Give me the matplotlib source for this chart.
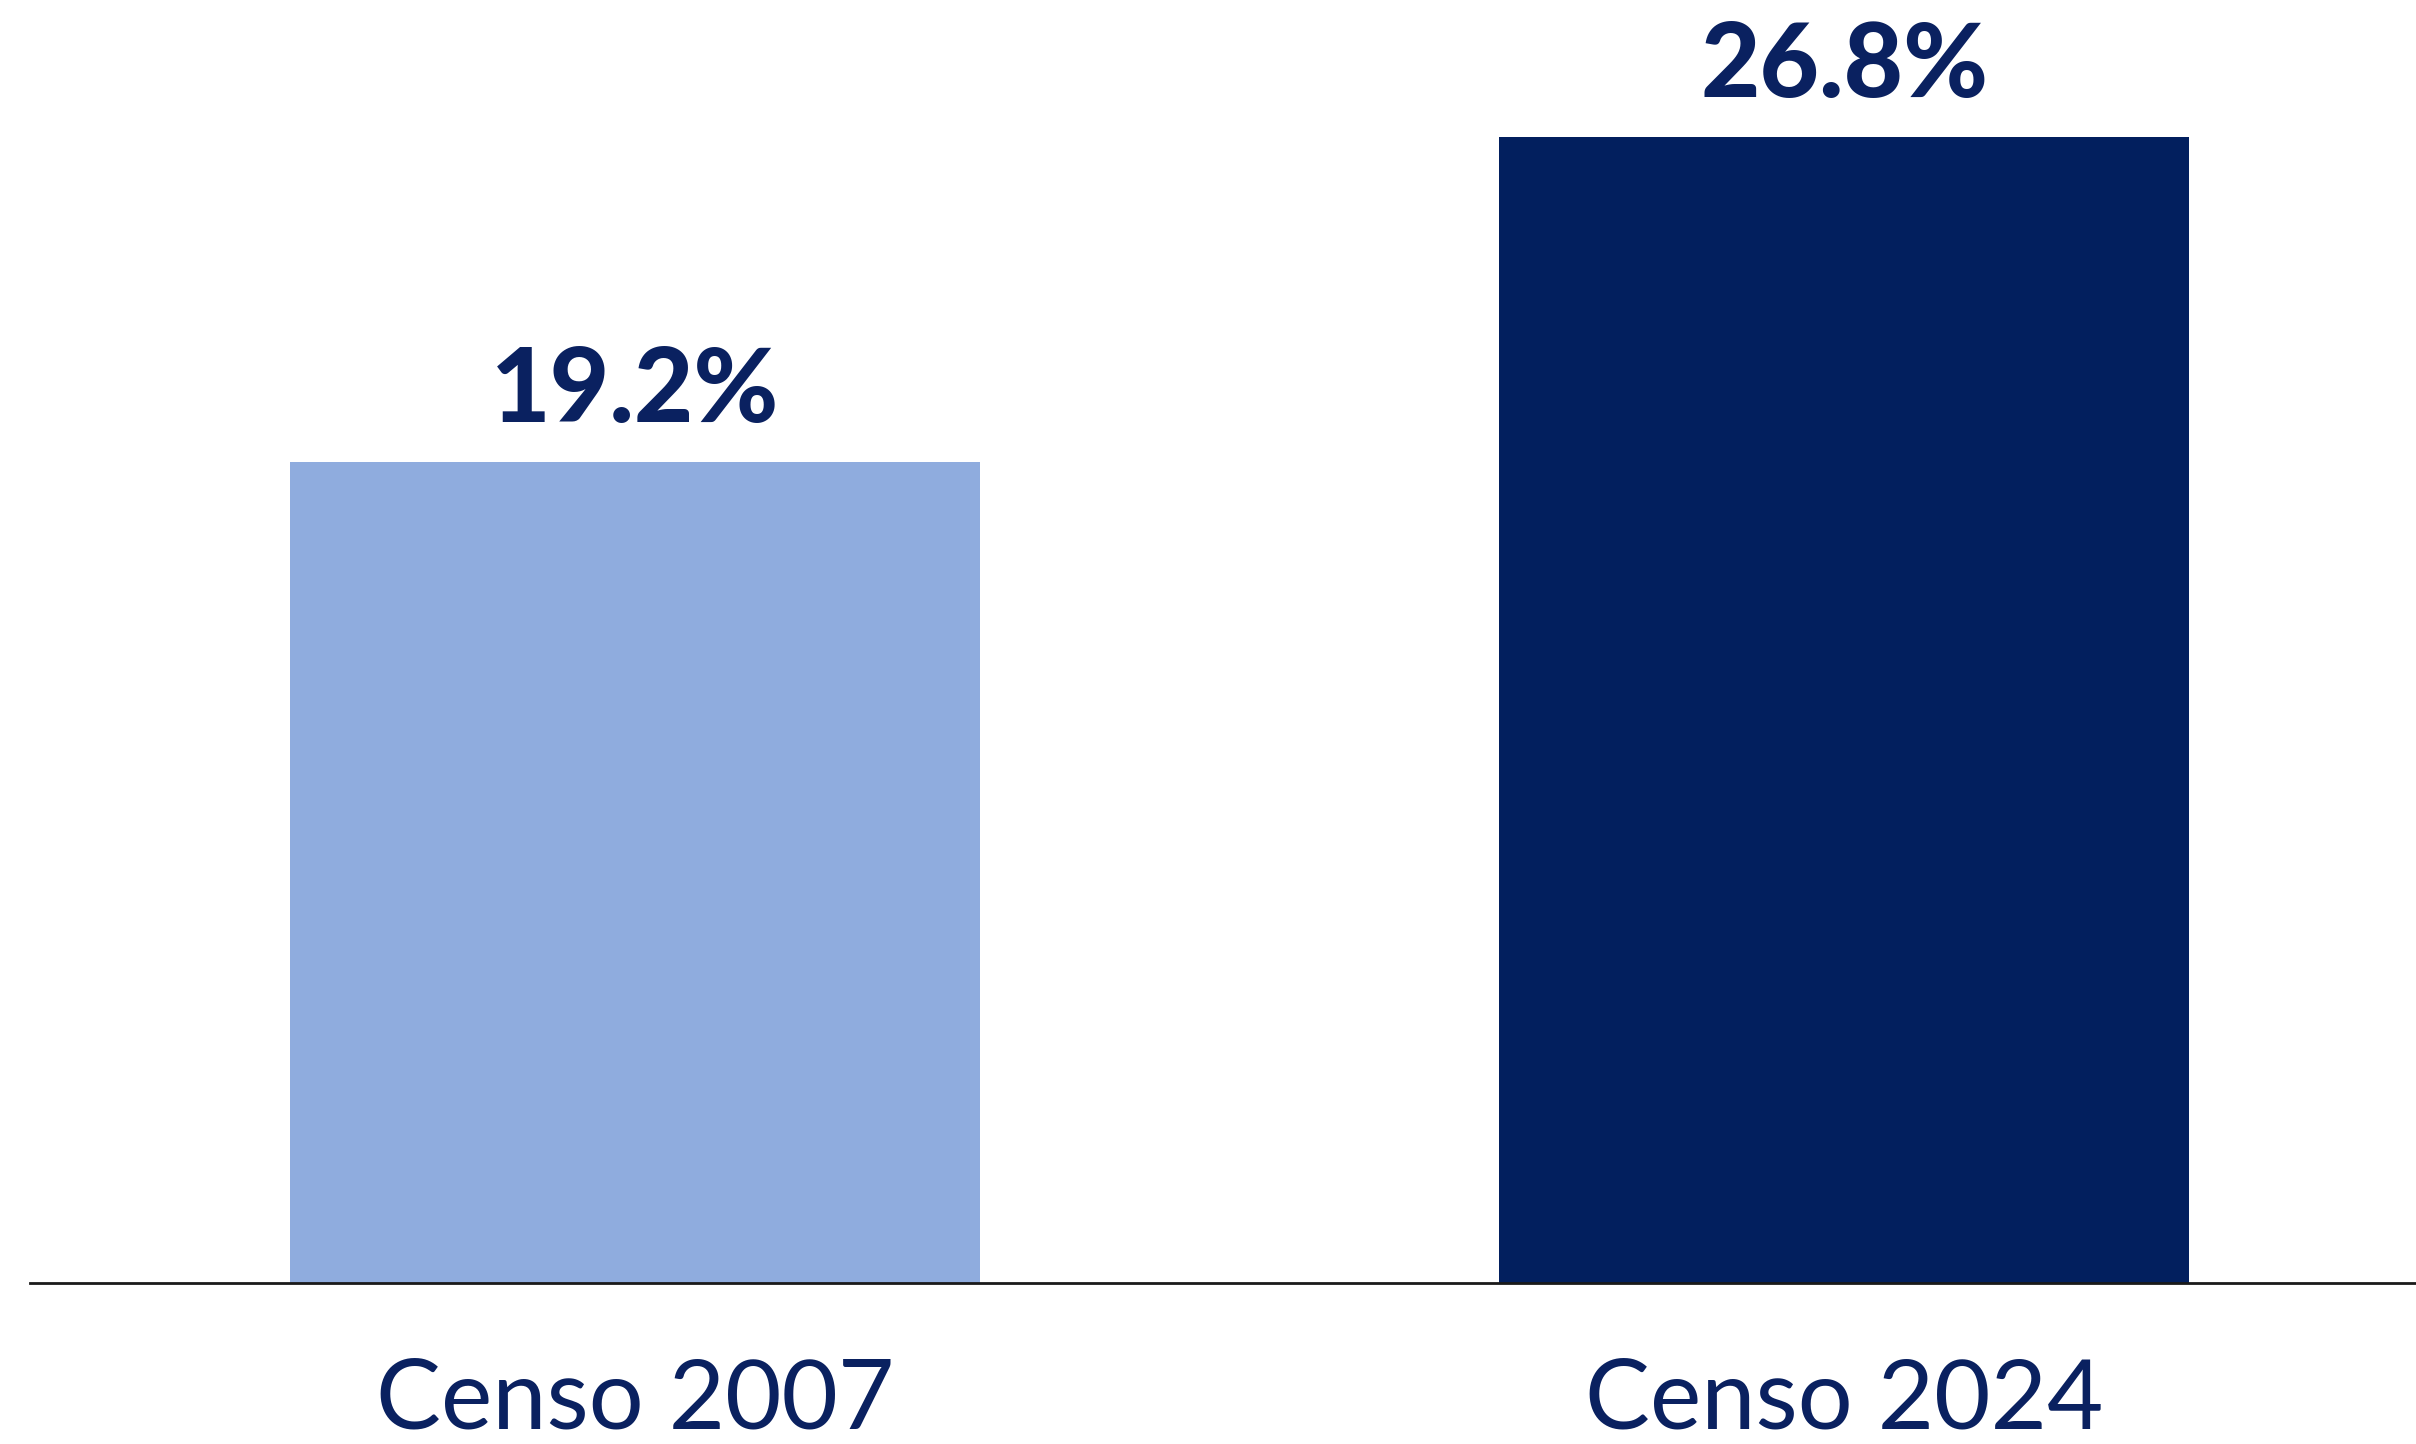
import matplotlib.pyplot as plt

categories = ['Censo 2007', 'Censo 2024']
values = [19.2, 26.8]
bar_colors = ['#8FACDE', '#021F5E']
text_color = '#0A2160'


def main():
    fig = plt.figure(figsize=(24.16, 14.44), dpi=100)
    ax = fig.add_axes([30 / 2416, 0.1115, 1 - 30 / 2416, 0.8885])

    x = list(range(len(categories)))
    ax.bar(x, values, width=0.571, color=bar_colors)

    for xi, v in zip(x, values):
        ax.annotate(f'{v:.1f}%', (xi, v), xytext=(0, 29), textcoords='offset points',
                    ha='center', va='baseline', fontsize=74, fontweight='black',
                    family='Lato', color=text_color)

    ax.set_xlim(-0.5004, 1.473)
    ax.set_ylim(0, 30.0)
    ax.set_xticks(x)
    ax.set_xticklabels(categories, fontsize=70, family='Lato', color=text_color)
    ax.tick_params(axis='x', length=0, pad=54)
    ax.set_yticks([])
    for side in ['top', 'right', 'left']:
        ax.spines[side].set_visible(False)
    ax.spines['bottom'].set_linewidth(2)
    ax.spines['bottom'].set_color('#1a1a1a')

    fig.savefig('out.png', dpi=100)


if __name__ == "__main__":
    main()
